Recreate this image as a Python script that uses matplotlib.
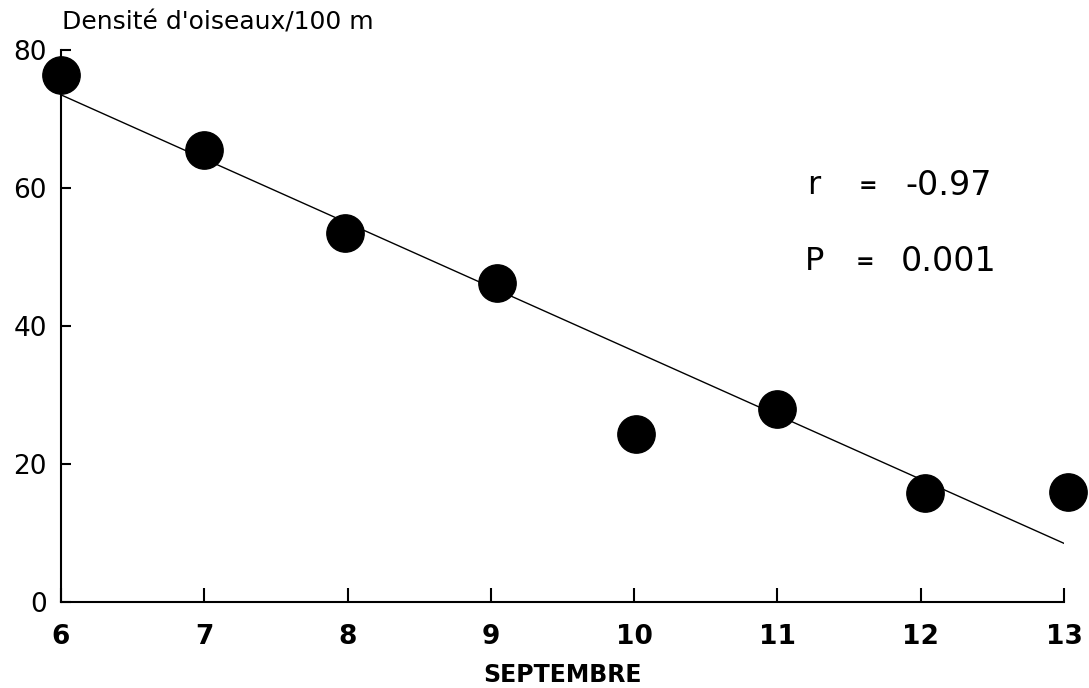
import numpy as np
import matplotlib.pyplot as plt

plt.rcParams['font.family'] = ['DejaVu Sans']

# daily bird density, September
jours = [6, 7, 7.98, 9.04, 10.01, 11.0, 12.03, 13.03]
densite = [76.4, 65.5, 53.5, 46.2, 24.3, 28.0, 15.8, 15.9]

# regression line end points as drawn
reg_x = [6, 13]
reg_y = [73.5, 8.5]

x_ticks = [6, 7, 8, 9, 10, 11, 12, 13]
y_ticks = [0, 20, 40, 60, 80]

fig = plt.figure(figsize=(10.89, 6.88), dpi=100)
ax = fig.add_axes([61 / 1089, 86 / 688, (1064 - 61) / 1089, (602 - 50) / 688])

ax.plot(reg_x, reg_y, color='black', lw=1.0, zorder=2)
ax.scatter(jours, densite, s=38 ** 2 * 0.5, color='black', zorder=3, clip_on=False)

ax.set_xlim(6, 13)
ax.set_ylim(0, 80)
ax.set_xticks(x_ticks)
ax.set_yticks(y_ticks)
for side in ['top', 'right']:
    ax.spines[side].set_visible(False)
for side in ['left', 'bottom']:
    ax.spines[side].set_linewidth(1.5)

ax.tick_params(axis='x', direction='in', length=10, width=1.5, pad=16, labelsize=19)
ax.tick_params(axis='y', direction='in', length=7, width=1.5, pad=10, labelsize=19)
for lab in ax.get_xticklabels():
    lab.set_fontweight('bold')

ax.set_xlabel('SEPTEMBRE', fontsize=17, fontweight='bold', labelpad=9)
fig.text(62 / 1089, 1 - 23 / 688, "Densité d'oiseaux/100 m", fontsize=18,
         va='center', ha='left')

# correlation stats
ax.text(11.21, 60.3, 'r', fontsize=23, va='center', ha='left')
ax.text(11.63, 60.3, '=', fontsize=16, fontweight='bold', va='center', ha='center')
ax.text(11.89, 60.3, '-0.97', fontsize=24, va='center', ha='left')
ax.text(11.19, 49.3, 'P', fontsize=23, va='center', ha='left')
ax.text(11.61, 49.3, '=', fontsize=16, fontweight='bold', va='center', ha='center')
ax.text(11.86, 49.3, '0.001', fontsize=24, va='center', ha='left')

fig.savefig('out.png', dpi=100)
